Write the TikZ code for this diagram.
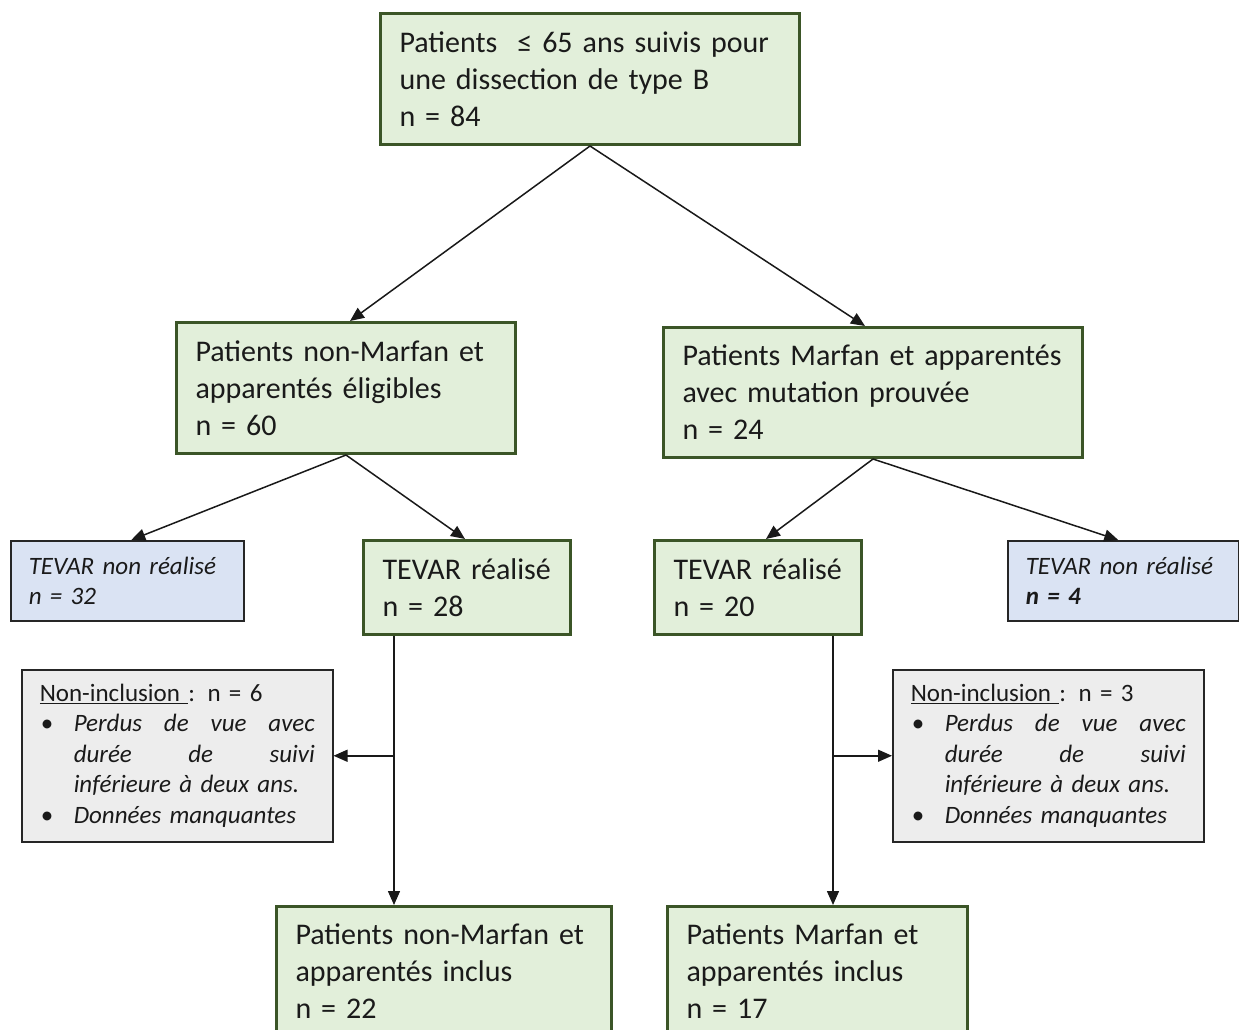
\documentclass[tikz,border=0pt]{standalone}
\usepackage{fontspec}
\setmainfont{Carlito}
\usetikzlibrary{arrows.meta,calc}
\definecolor{gfill}{HTML}{E2EFDA}
\definecolor{gborder}{HTML}{3B5527}
\definecolor{bfill}{HTML}{DAE3F3}
\definecolor{xfill}{HTML}{EDEDED}
\definecolor{dborder}{HTML}{262626}
\definecolor{txt}{HTML}{1A1A1A}
\tikzset{
  gbox/.style={draw=gborder, line width=3pt, fill=gfill, anchor=north west, align=left,
    inner xsep=19pt, inner ysep=0pt, text=txt, font=\fontsize{30}{37}\selectfont},
  bbox/.style={draw=dborder, line width=1.5pt, fill=bfill, anchor=north west, align=left,
    inner xsep=18pt, inner ysep=0pt, text=txt, font=\fontsize{25}{30.5}\selectfont\itshape},
  xbox/.style={draw=dborder, line width=1.5pt, fill=xfill, anchor=north west, align=left,
    inner xsep=18pt, inner ysep=0pt, text=txt, font=\fontsize{25}{30.5}\selectfont},
  arr/.style={draw=black!90, line width=1.5pt, -{Triangle[length=14pt,width=12pt]}},
  ln/.style={draw=black!90, line width=1.5pt}
}
\newcommand{\bul}{\makebox[34pt][l]{\hspace{1pt}•}}
\newcommand{\ind}{\hspace*{34pt}}
\begin{document}
\begin{tikzpicture}[x=1pt,y=-1pt]
\useasboundingbox (0,0) rectangle (1239,1030);
\clip (0,0) rectangle (1239,1030);

\node[gbox, minimum width=419, minimum height=131, text width=381] (top) at (379,12)
  {Patients\ \ ≤ 65 ans suivis pour\\une dissection de type B\\n = 84};
\node[gbox, minimum width=339, minimum height=131, text width=301] (lm) at (175,321)
  {Patients non-Marfan et\\apparentés éligibles\\n = 60};
\node[gbox, minimum width=419, minimum height=130, text width=381] (rm) at (662,326)
  {Patients Marfan et apparentés\\avec mutation prouvée\\n = 24};

\node[bbox, minimum width=233, minimum height=80, text width=197] (bl) at (10,540)
  {TEVAR non réalisé\\n = 32};
\node[gbox, minimum width=207, minimum height=94, text width=169] (tl) at (362,539)
  {TEVAR réalisé\\n = 28};
\node[gbox, minimum width=207, minimum height=94, text width=169] (tr) at (653,539)
  {TEVAR réalisé\\n = 20};
\node[bbox, minimum width=231, minimum height=80, text width=195] (br) at (1007,540)
  {TEVAR non réalisé\\\textbf{n = 4}};

\node[xbox, minimum width=311, minimum height=172, text width=275] (nl) at (21,669)
  {\underline{Non-inclusion\ }: n = 6\\
   \bul\hbox to 241pt{\itshape Perdus\hfill de\hfill vue\hfill avec}\\
   \ind\hbox to 241pt{\itshape durée\hfill de\hfill suivi}\\
   \ind\textit{inférieure à deux ans.}\\
   \bul\textit{Données manquantes}};
\node[xbox, minimum width=311, minimum height=172, text width=275] (nr) at (892,669)
  {\underline{Non-inclusion\ }: n = 3\\
   \bul\hbox to 241pt{\itshape Perdus\hfill de\hfill vue\hfill avec}\\
   \ind\hbox to 241pt{\itshape durée\hfill de\hfill suivi}\\
   \ind\textit{inférieure à deux ans.}\\
   \bul\textit{Données manquantes}};

\node[gbox, minimum width=335, minimum height=130, text width=297] (fl) at (275,905)
  {Patients non-Marfan et\\apparentés inclus\\n = 22};
\node[gbox, minimum width=300, minimum height=130, text width=262] (fr) at (666,905)
  {Patients Marfan et\\apparentés inclus\\n = 17};

% connectors
\draw[arr] (top.south) -- ([xshift=4pt]lm.north);
\draw[arr] (top.south) -- ([xshift=-8pt]rm.north);
\draw[arr] (lm.south) -- ([xshift=4pt]bl.north);
\draw[arr] (lm.south) -- ([xshift=-2pt]tl.north);
\draw[arr] (rm.south) -- ([xshift=8pt]tr.north);
\draw[arr] (rm.south) -- ([xshift=-5pt]br.north);

\coordinate (lx) at ([xshift=32pt]tl.south west);
\coordinate (rx) at ([xshift=-30pt]tr.south east);
\draw[arr] (lx) -- (lx |- fl.north);
\draw[arr] (lx |- nl.east) -- (nl.east);
\draw[arr] (rx) -- (rx |- fr.north);
\draw[arr] (rx |- nr.west) -- (nr.west);
\end{tikzpicture}
\end{document}
